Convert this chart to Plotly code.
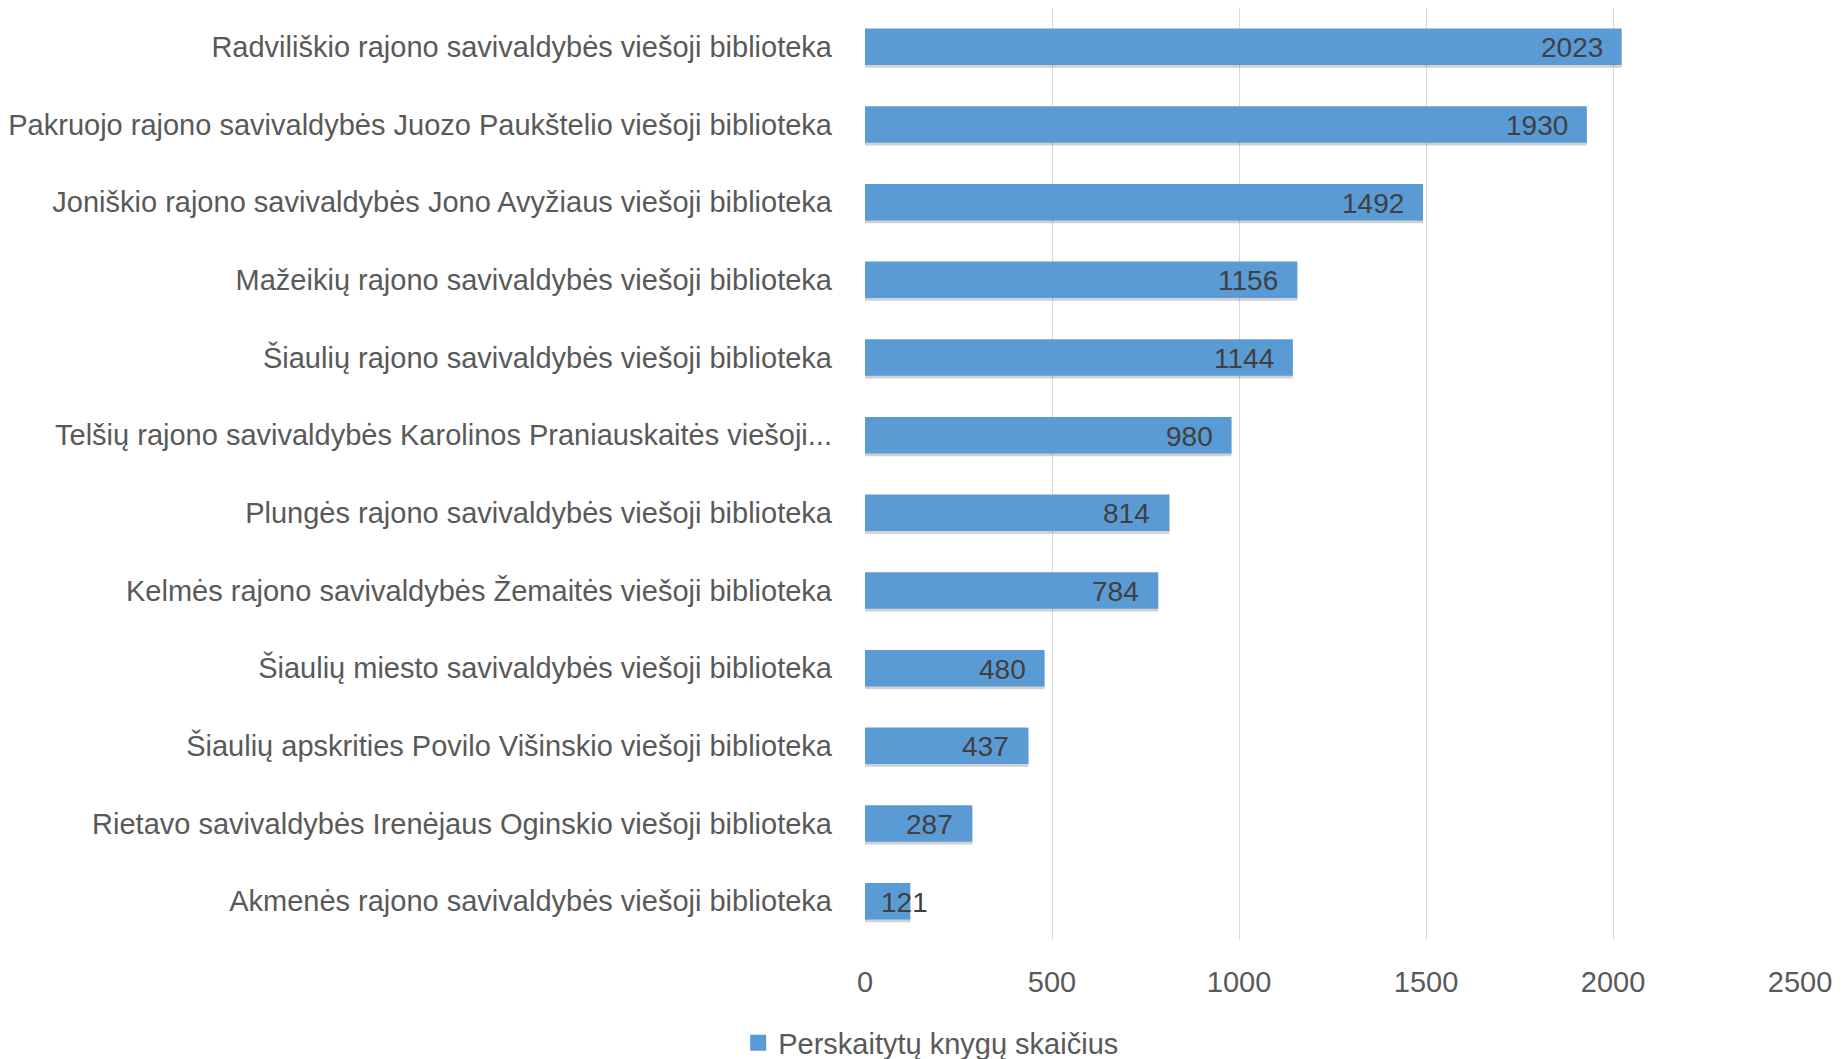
import plotly.graph_objects as go

categories = [
    "Radviliškio rajono savivaldybės viešoji biblioteka",
    "Pakruojo rajono savivaldybės Juozo Paukštelio viešoji biblioteka",
    "Joniškio rajono savivaldybės Jono Avyžiaus viešoji biblioteka",
    "Mažeikių rajono savivaldybės viešoji biblioteka",
    "Šiaulių rajono savivaldybės viešoji biblioteka",
    "Telšių rajono savivaldybės Karolinos Praniauskaitės viešoji...",
    "Plungės rajono savivaldybės viešoji biblioteka",
    "Kelmės rajono savivaldybės Žemaitės viešoji biblioteka",
    "Šiaulių miesto savivaldybės viešoji biblioteka",
    "Šiaulių apskrities Povilo Višinskio viešoji biblioteka",
    "Rietavo savivaldybės Irenėjaus Oginskio viešoji biblioteka",
    "Akmenės rajono savivaldybės viešoji biblioteka",
]
values = [2023, 1930, 1492, 1156, 1144, 980, 814, 784, 480, 437, 287, 121]
series_name = "Perskaitytų knygų skaičius"
x_ticks = [0, 500, 1000, 1500, 2000, 2500]

FONT = "Liberation Sans, Arial, sans-serif"
BAR = "#5B9BD5"

fig = go.Figure()
# soft shadow under bars
fig.add_trace(go.Bar(
    y=categories, x=values, orientation="h", showlegend=False,
    marker=dict(color="rgba(0,0,0,0.18)", line=dict(width=0)),
    width=0.47, offset=-0.2, hoverinfo="skip",
))
fig.add_trace(go.Bar(
    y=categories, x=values, orientation="h", name=series_name,
    showlegend=False,
    marker=dict(color=BAR, line=dict(width=0)),
    width=0.47, offset=-0.235,
))
# legend entry with a larger square swatch
fig.add_trace(go.Scatter(
    x=[None], y=[None], mode="markers", name=series_name,
    marker=dict(symbol="square", size=19, color=BAR),
))

for cat, v in zip(categories, values):
    fits = v > 200
    fig.add_annotation(
        x=v, y=cat, xref="x", yref="y", text=str(v), showarrow=False,
        xanchor="right" if fits else "center",
        xshift=-17 if fits else -6, yshift=-1,
        font=dict(family=FONT, size=28, color="#404040"),
    )

fig.update_layout(
    width=1839, height=1051,
    paper_bgcolor="white", plot_bgcolor="white",
    margin=dict(l=857, r=47, t=0, b=119, autoexpand=False),
    barmode="overlay",
    font=dict(family=FONT, size=29, color="#595959"),
    showlegend=True,
    legend=dict(orientation="h", xref="container", yref="container",
                x=0.502, xanchor="center", y=0.0152, yanchor="middle",
                font=dict(family=FONT, size=29, color="#595959"),
                itemsizing="trace"),
    xaxis=dict(range=[0, 2500], tickvals=x_ticks, showgrid=True,
               gridcolor="#D9D9D9", gridwidth=1, zeroline=False,
               showline=False, ticks="", ticklabelstandoff=22,
               tickfont=dict(family=FONT, size=29, color="#595959"),
               automargin=False),
    yaxis=dict(autorange="reversed", showgrid=False, zeroline=False,
               showline=False, ticks="", ticklabelstandoff=32,
               tickfont=dict(family=FONT, size=29, color="#595959"),
               automargin=False),
)

fig.write_html("out.html")
